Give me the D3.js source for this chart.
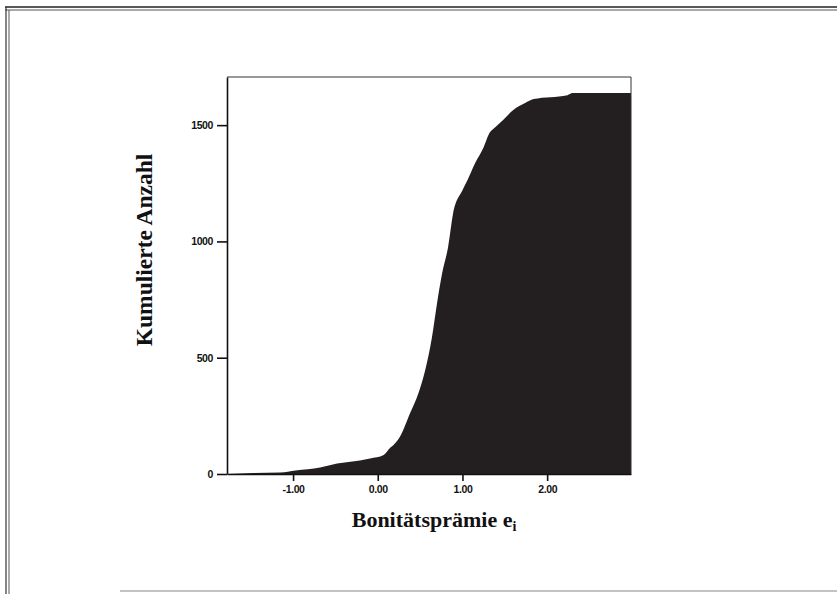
<!DOCTYPE html>
<html>
<head>
<meta charset="utf-8">
<script src="https://cdn.jsdelivr.net/npm/d3@7"></script>
<style>
  html, body { margin: 0; padding: 0; background: #fff; }
  svg { display: block; }
</style>
</head>
<body>
<script>
// Cumulative count vs. Bonitätsprämie
const premium = [-1.78, -1.47, -1.15, -0.97, -0.68, -0.48, -0.21, -0.09, 0.07, 0.15, 0.18, 0.27, 0.38, 0.48, 0.56, 0.64, 0.70, 0.76, 0.83, 0.89, 1.00, 1.06, 1.15, 1.25, 1.31, 1.39, 1.48, 1.60, 1.74, 1.84, 2.24, 2.30, 2.99];
const cumCount = [0, 4, 6, 15, 28, 45, 58, 67, 82, 114, 123, 166, 260, 347, 446, 588, 734, 863, 975, 1121, 1220, 1264, 1337, 1405, 1460, 1492, 1522, 1565, 1595, 1612, 1629, 1638, 1638];
const xTicks = [-1, 0, 1, 2];
const xTickLabels = ["-1.00", "0.00", "1.00", "2.00"];
const yTicks = [0, 500, 1000, 1500];
const yTickLabels = ["0", "500", "1000", "1500"];
const xTitle = "Bonitätsprämie e";
const xTitleSub = "i";
const yTitle = "Kumulierte Anzahl";

const W = 837, H = 594;
const plot = { left: 227, top: 77, right: 631, bottom: 474 };

const svg = d3.select("body").append("svg").attr("width", W).attr("height", H);

// Page frame
const frame = svg.append("g").attr("fill", "none");
frame.append("line").attr("x1", 5).attr("x2", W).attr("y1", 7).attr("y2", 7).attr("stroke", "#222").attr("stroke-width", 1.5);
frame.append("line").attr("x1", 5).attr("x2", W).attr("y1", 10).attr("y2", 10).attr("stroke", "#555").attr("stroke-width", 1);
frame.append("line").attr("x1", 6).attr("x2", 6).attr("y1", 7).attr("y2", H).attr("stroke", "#333").attr("stroke-width", 1.2);
frame.append("line").attr("x1", 9).attr("x2", 9).attr("y1", 10).attr("y2", H).attr("stroke", "#555").attr("stroke-width", 1);
frame.append("line").attr("x1", 120).attr("x2", W).attr("y1", 591).attr("y2", 591).attr("stroke", "#888").attr("stroke-width", 1.2);

const x = d3.scaleLinear().domain([-1.78, 2.99]).range([plot.left, plot.right]);
const y = d3.scaleLinear().domain([0, 1707]).range([plot.bottom, plot.top]);

const data = premium.map((p, i) => ({ p, c: cumCount[i] }));

// Filled cumulative area
const area = d3.area()
  .x(d => x(d.p))
  .y0(y(0))
  .y1(d => y(d.c))
  .curve(d3.curveMonotoneX);
svg.append("path").datum(data).attr("d", area).attr("fill", "#231f20");

// Plot box (thin top/right)
svg.append("line").attr("x1", plot.left).attr("x2", plot.right).attr("y1", plot.top).attr("y2", plot.top).attr("stroke", "#333").attr("stroke-width", 1);
svg.append("line").attr("x1", plot.right).attr("x2", plot.right).attr("y1", plot.top).attr("y2", plot.bottom).attr("stroke", "#333").attr("stroke-width", 1);

// Axes
const xAxis = d3.axisBottom(x).tickValues(xTicks).tickFormat((d, i) => xTickLabels[i]).tickSize(7).tickSizeOuter(0).tickPadding(5);
const yAxis = d3.axisLeft(y).tickValues(yTicks).tickFormat((d, i) => yTickLabels[i]).tickSize(10).tickSizeOuter(0).tickPadding(4);

const gx = svg.append("g").attr("transform", `translate(0,${plot.bottom})`).call(xAxis);
const gy = svg.append("g").attr("transform", `translate(${plot.left},0)`).call(yAxis);
[gx, gy].forEach(g => {
  g.select(".domain").attr("stroke", "#111").attr("stroke-width", 1.6);
  g.selectAll(".tick line").attr("stroke", "#111").attr("stroke-width", 1.6);
  g.selectAll(".tick text")
    .attr("fill", "#111")
    .style("font-family", "'Liberation Sans', Arial, sans-serif")
    .style("font-size", "10.5px")
    .style("font-weight", "bold")
    .style("letter-spacing", "-0.4px");
});

// Axis titles
const xt = svg.append("text")
  .attr("x", (plot.left + plot.right) / 2 + 5)
  .attr("y", 527)
  .attr("text-anchor", "middle")
  .style("font-family", "'Liberation Serif', 'Times New Roman', serif")
  .style("font-size", "22px")
  .style("font-weight", "bold")
  .attr("fill", "#111");
xt.append("tspan").text(xTitle);
xt.append("tspan").attr("dy", 4).style("font-size", "14px").text(xTitleSub);

svg.append("text")
  .attr("transform", `translate(152,250) rotate(-90)`)
  .attr("text-anchor", "middle")
  .style("font-family", "'Liberation Serif', 'Times New Roman', serif")
  .style("font-size", "23.5px")
  .style("font-weight", "bold")
  .attr("fill", "#111")
  .text(yTitle);
</script>
</body>
</html>
